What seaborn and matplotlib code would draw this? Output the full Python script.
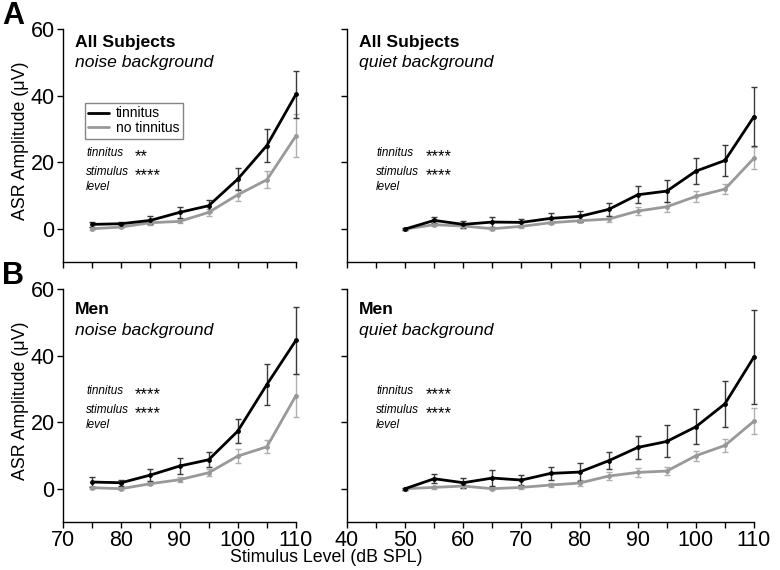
import matplotlib.pyplot as plt
from matplotlib.ticker import MultipleLocator
from matplotlib.lines import Line2D
import seaborn as sns
import pandas as pd

# stimulus levels (dB SPL)
levels_noise = [75, 80, 85, 90, 95, 100, 105, 110]
levels_quiet = [50, 55, 60, 65, 70, 75, 80, 85, 90, 95, 100, 105, 110]

# All subjects, noise background
all_noise_tin = [1.3, 1.5, 2.5, 4.9, 6.9, 14.9, 25.0, 40.4]
all_noise_tin_se = [0.8, 0.5, 1.2, 1.6, 1.8, 3.2, 5.0, 7.0]
all_noise_no = [0.0, 0.5, 1.8, 2.2, 4.9, 10.2, 14.7, 27.9]
all_noise_no_se = [0.5, 0.3, 0.8, 0.6, 1.0, 1.8, 2.6, 6.5]

# All subjects, quiet background
all_quiet_tin = [-0.1, 2.5, 1.3, 2.0, 1.9, 3.1, 3.7, 5.8, 10.2, 11.3, 17.3, 20.5, 33.7]
all_quiet_tin_se = [0.3, 0.9, 1.0, 1.6, 1.0, 1.5, 1.7, 2.0, 2.5, 3.2, 3.9, 4.7, 9.0]
all_quiet_no = [-0.1, 1.2, 0.8, 0.0, 0.7, 1.8, 2.4, 2.9, 5.3, 6.6, 9.7, 11.9, 21.2]
all_quiet_no_se = [0.3, 0.5, 0.5, 0.5, 0.5, 0.5, 0.5, 0.8, 1.2, 1.5, 1.6, 1.5, 3.4]

# Men, noise background
men_noise_tin = [2.0, 1.8, 4.1, 6.8, 8.7, 17.3, 31.3, 44.6]
men_noise_tin_se = [1.4, 0.9, 1.9, 2.5, 2.2, 3.7, 6.2, 10.0]
men_noise_no = [0.3, 0.0, 1.5, 2.7, 4.8, 9.8, 12.6, 28.0]
men_noise_no_se = [0.5, 0.4, 0.5, 0.7, 1.0, 2.2, 2.0, 6.5]

# Men, quiet background
men_quiet_tin = [0.0, 3.0, 1.8, 3.2, 2.6, 4.6, 5.0, 8.4, 12.4, 14.2, 18.6, 25.5, 39.6]
men_quiet_tin_se = [0.3, 1.3, 1.5, 2.4, 1.4, 1.9, 2.6, 2.5, 3.4, 4.8, 5.2, 6.9, 14.0]
men_quiet_no = [0.0, 0.4, 0.8, 0.0, 0.4, 1.1, 1.7, 3.8, 4.9, 5.3, 9.9, 13.0, 20.3]
men_quiet_no_se = [0.3, 0.5, 0.5, 0.5, 0.5, 0.5, 0.8, 1.2, 1.4, 1.2, 1.5, 1.9, 4.0]

groups = ["tinnitus", "no tinnitus"]

sns.set_theme(style="ticks")
plt.rcParams['font.family'] = ['Liberation Sans', 'DejaVu Sans']
for k in ['text.color', 'axes.labelcolor', 'xtick.color', 'ytick.color', 'axes.edgecolor']:
    plt.rcParams[k] = 'black'

def frame(levels, tin, tin_se, no, no_se):
    d1 = pd.DataFrame({"level": levels, "amp": tin, "se": tin_se, "group": "tinnitus"})
    d2 = pd.DataFrame({"level": levels, "amp": no, "se": no_se, "group": "no tinnitus"})
    return pd.concat([d1, d2], ignore_index=True)

panels = [
    ("All Subjects", "noise background", frame(levels_noise, all_noise_tin, all_noise_tin_se, all_noise_no, all_noise_no_se), "**", "****"),
    ("All Subjects", "quiet background", frame(levels_quiet, all_quiet_tin, all_quiet_tin_se, all_quiet_no, all_quiet_no_se), "****", "****"),
    ("Men", "noise background", frame(levels_noise, men_noise_tin, men_noise_tin_se, men_noise_no, men_noise_no_se), "****", "****"),
    ("Men", "quiet background", frame(levels_quiet, men_quiet_tin, men_quiet_tin_se, men_quiet_no, men_quiet_no_se), "****", "****"),
]

line_col = {"tinnitus": "#000000", "no tinnitus": "#999999"}
err_col = {"tinnitus": "#3a3a3a", "no tinnitus": "#b0b0b0"}

fig = plt.figure(figsize=(7.8, 5.7), dpi=100)
W, H = 780, 570
boxes = [(63, 296, 29, 262), (347, 754, 29, 262), (63, 296, 289, 522), (347, 754, 289, 522)]
PT = 0.72  # points per pixel at 100 dpi

def put(ax, s, px, py, **kw):
    # px, py: pixel offsets from the axes' lower-left corner
    ax.annotate(s, xy=(0, 0), xycoords='axes fraction', xytext=(px * PT, py * PT),
                textcoords='offset points', annotation_clip=False, **kw)

axes = []
for i, (title, sub, df, st1, st2) in enumerate(panels):
    x0, x1, yt, yb = boxes[i]
    h = yb - yt
    ax = fig.add_axes([x0 / W, 1 - yb / H, (x1 - x0) / W, h / H])
    axes.append(ax)
    for g in ["no tinnitus", "tinnitus"]:
        d = df[df.group == g]
        ax.errorbar(d.level, d.amp, yerr=d.se, fmt='none', ecolor=err_col[g],
                    elinewidth=1.0, capsize=2.5, capthick=1.0, zorder=2, clip_on=False)
    sns.lineplot(data=df, x="level", y="amp", hue="group", hue_order=groups[::-1],
                 palette=line_col, linewidth=2.0, marker="o", markersize=3.5,
                 markeredgewidth=0, ax=ax, legend=False, zorder=3, clip_on=False)
    left = i % 2 == 0
    ax.set_xlim(70 if left else 40, 110)
    ax.set_ylim(-10, 60)
    ax.set_yticks([0, 20, 40, 60])
    ax.xaxis.set_major_locator(MultipleLocator(10))
    ax.xaxis.set_minor_locator(MultipleLocator(5))
    ax.tick_params(axis='both', which='both', direction='out', length=4.5, width=1,
                   labelsize=15.5, color='black')
    ax.tick_params(axis='y', pad=1.5)
    ax.tick_params(axis='x', pad=1)
    for s in ["top", "right"]:
        ax.spines[s].set_visible(False)
    for s in ["left", "bottom"]:
        ax.spines[s].set_linewidth(1.0)
    ax.set_xlabel("")
    ax.set_ylabel("")
    if not left:
        ax.set_yticklabels([])
    if i < 2:
        ax.set_xticklabels([])
    if left:
        ax.set_ylabel("ASR Amplitude (\u03bcV)", fontsize=12.8,
                      family=['Liberation Sans Narrow', 'Liberation Sans'])
        ax.yaxis.set_label_coords((29 - 63) / 233, 0.52)

    # titles
    t1 = 13 if i < 2 else 20
    t2 = 33 if i < 2 else 41
    put(ax, title, 12, h - t1, fontsize=12.6, fontweight='bold', va='center')
    put(ax, sub, 12, h - t2, fontsize=12.6, style='italic', va='center')

    # statistics
    fy = h * (0.468 if i < 2 else 0.562)
    tx = 23 if left else 29
    sx = 72 if left else 79
    put(ax, "tinnitus", tx, fy, fontsize=8.5, style='italic', va='center')
    put(ax, "stimulus", tx, fy - 19, fontsize=8.5, style='italic', va='center')
    put(ax, "level", tx, fy - 34, fontsize=8.5, style='italic', va='center')
    put(ax, st1, sx, fy - 8, fontsize=12, va='baseline')
    put(ax, st2, sx, fy - 27, fontsize=12, va='baseline')

# legend in first panel
handles = [Line2D([], [], color=line_col[g], linewidth=2) for g in groups]
leg = axes[0].legend(handles, groups, loc='upper left',
                     bbox_to_anchor=((85 - 63) / 233, (262 - 103) / 233),
                     fontsize=10, frameon=True, fancybox=False, handlelength=1.5,
                     borderpad=0.25, labelspacing=0.05, handletextpad=0.5, borderaxespad=0)
leg.get_frame().set_edgecolor('#666666')
leg.get_frame().set_linewidth(1.0)

fig.text(2 / W, 1 - 16 / H, "A", fontsize=22, fontweight='bold', va='center')
fig.text(2 / W, 1 - 276 / H, "B", fontsize=22, fontweight='bold', va='center')
fig.text(326 / W, 1 - 558 / H, "Stimulus Level (dB SPL)", fontsize=12.8, ha='center', va='center')

fig.savefig("out.png", dpi=100)
